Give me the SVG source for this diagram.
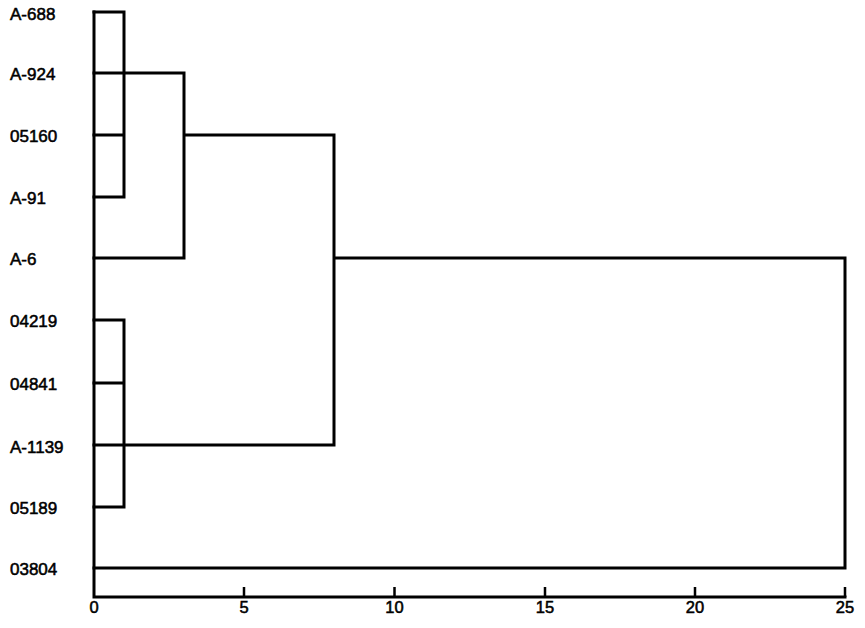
<svg xmlns="http://www.w3.org/2000/svg" width="865" height="628" viewBox="0 0 865 628">
<style>
  .lbl { font-family: "Liberation Sans", Arial, sans-serif; font-size: 17px; fill: #000; stroke: #000; stroke-width: 0.55px; }
  .tick { font-family: "Liberation Sans", Arial, sans-serif; font-size: 16.5px; fill: #000; stroke: #000; stroke-width: 0.55px; text-anchor: middle; }
  .ln { fill: none; stroke: #000; stroke-width: 3; stroke-linecap: square; stroke-linejoin: miter; }
  .tk { fill: none; stroke: #000; stroke-width: 2.5; }
</style>
<rect width="865" height="628" fill="#fff"/>
<g id="leaf-A-688"><text class="lbl" x="10" y="19.5">A-688</text></g>
<g id="leaf-A-924"><text class="lbl" x="10" y="80">A-924</text></g>
<g id="leaf-05160"><text class="lbl" x="10" y="142">05160</text></g>
<g id="leaf-A-91"><text class="lbl" x="10" y="204">A-91</text></g>
<g id="leaf-A-6"><text class="lbl" x="10" y="265">A-6</text></g>
<g id="leaf-04219"><text class="lbl" x="10" y="327">04219</text></g>
<g id="leaf-04841"><text class="lbl" x="10" y="390">04841</text></g>
<g id="leaf-A-1139"><text class="lbl" x="10" y="453">A-1139</text></g>
<g id="leaf-05189"><text class="lbl" x="10" y="514">05189</text></g>
<g id="leaf-03804"><text class="lbl" x="10" y="575">03804</text></g>
<g id="connectors">
  <path class="ln" d="M94,12 H124 V197 H94 M94,135 H124 M94,73 H184 V258 H94 M184,135 H334 V445 H94 M94,320 H124 V507 H94 M94,383 H124 M334,258 H845 V568 H94"/>
  <path class="ln" d="M94,12 V597 H845"/>
</g>
<g id="axis">
  <path class="tk" d="M244,587 V597 M394.5,587 V597 M545,587 V597 M695,587 V597 M845,587 V597"/>
  <text class="tick" x="94" y="613">0</text>
  <text class="tick" x="244" y="613">5</text>
  <text class="tick" x="394.5" y="613">10</text>
  <text class="tick" x="545" y="613">15</text>
  <text class="tick" x="695" y="613">20</text>
  <text class="tick" x="845" y="613">25</text>
</g>
</svg>
